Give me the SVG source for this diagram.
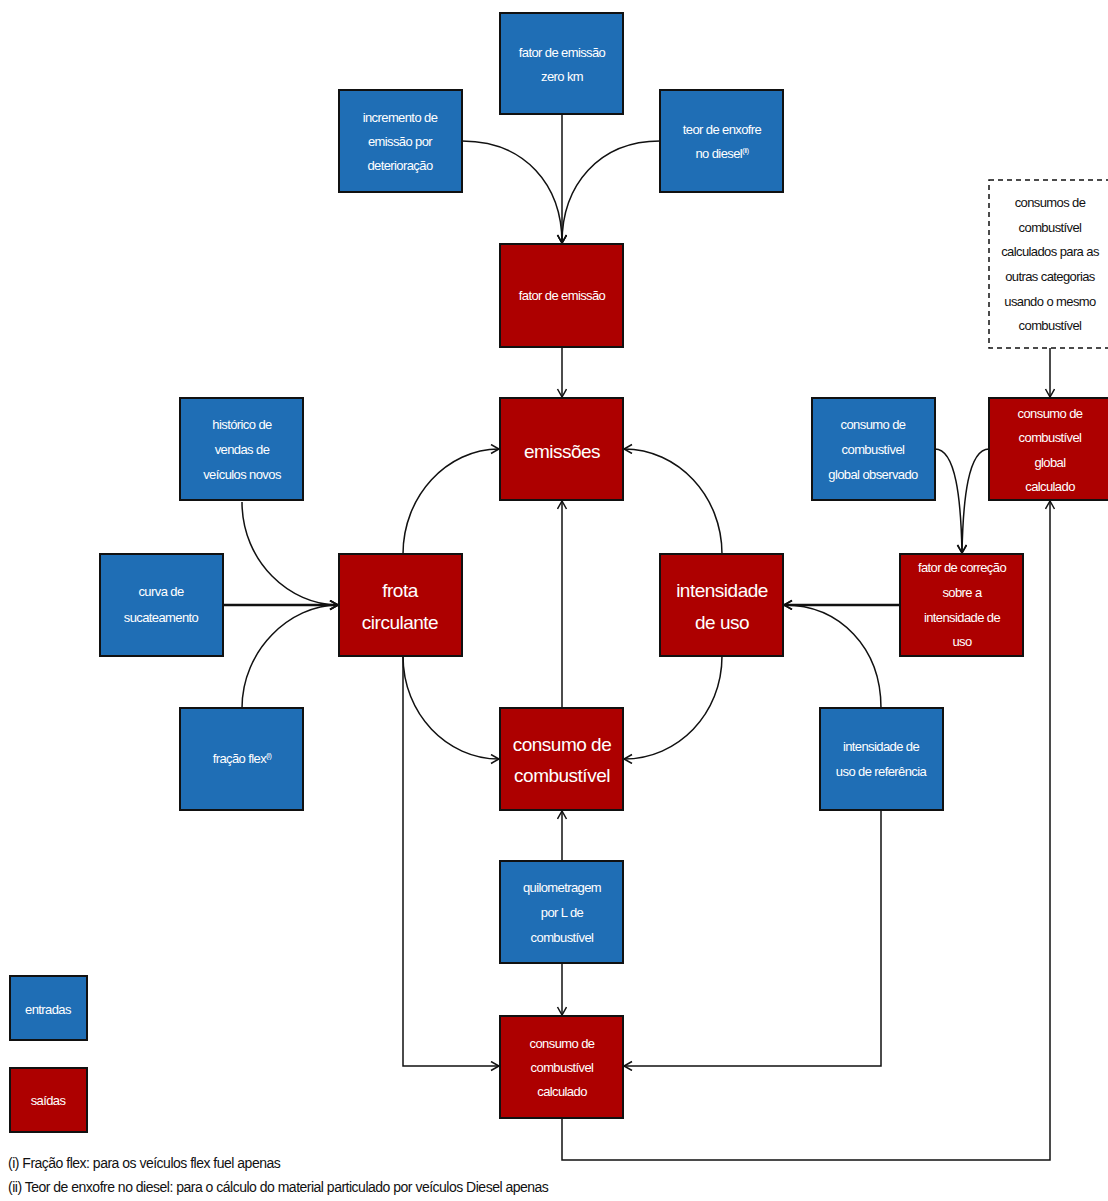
<svg xmlns="http://www.w3.org/2000/svg" width="1108" height="1201" viewBox="0 0 1108 1201">
<style>
.b{fill:#1f6eb5;stroke:#111;stroke-width:2}
.r{fill:#ad0000;stroke:#111;stroke-width:2}
.d{fill:#fff;stroke:#111;stroke-width:1.5;stroke-dasharray:5 4}
text{font-family:"Liberation Sans",Arial,sans-serif;text-anchor:middle;fill:#fff;font-size:13px;letter-spacing:-0.6px}
.L{font-size:19px;letter-spacing:-0.5px}
.k{fill:#111}
.f{fill:#111;text-anchor:start;font-size:14px;letter-spacing:-0.5px}
.c path{fill:none;stroke:#111;stroke-width:1.5}
.c .t{stroke-width:2.5}
</style>
<defs>
<marker id="a" markerWidth="12" markerHeight="12" refX="9" refY="5" orient="auto" markerUnits="userSpaceOnUse">
<path d="M1,0.5 L9,5 L1,9.5" fill="none" stroke="#111" stroke-width="1.5"/>
</marker>
</defs>
<rect width="1108" height="1201" fill="#fff"/>
<g class="c" id="connectors">
<path d="M562,114 L562,243" marker-end="url(#a)"/>
<path d="M462,141 C525,141 562,185 562,243" marker-end="url(#a)"/>
<path d="M660,141 C599,141 562,185 562,243" marker-end="url(#a)"/>
<path d="M562,347 L562,397" marker-end="url(#a)"/>
<path d="M403,554 C403,496 447,449 499,449" marker-end="url(#a)"/>
<path d="M722,554 C722,496 678,449 624,449" marker-end="url(#a)"/>
<path d="M403,656 C403,714 447,759 499,759" marker-end="url(#a)"/>
<path d="M722,656 C722,714 678,759 624,759" marker-end="url(#a)"/>
<path d="M562,708 L562,501" marker-end="url(#a)"/>
<path d="M562,861 L562,811" marker-end="url(#a)"/>
<path d="M562,963 L562,1015" marker-end="url(#a)"/>
<path d="M242,502 C242,562 290,605 338,605" marker-end="url(#a)"/>
<path class="t" d="M223,605 L338,605" marker-end="url(#a)"/>
<path d="M242,708 C242,650 290,605 338,605" marker-end="url(#a)"/>
<path d="M403,656 L403,1066 L499,1066" marker-end="url(#a)"/>
<path d="M881,810 L881,1066 L624,1066" marker-end="url(#a)"/>
<path d="M881,708 C881,648 840,605 784,605" marker-end="url(#a)"/>
<path class="t" d="M900,605 L784,605" marker-end="url(#a)"/>
<path d="M935,449 C956,449 961,500 962,553" marker-end="url(#a)"/>
<path d="M989,449 C968,449 963,500 962,553" marker-end="url(#a)"/>
<path d="M1050,348 L1050,397" marker-end="url(#a)"/>
<path d="M562,1118 L562,1160 L1050,1160 L1050,501" marker-end="url(#a)"/>
</g>
<g id="n-zerokm"><rect class="b" x="500" y="13" width="123" height="101"/><text x="562" y="57">fator de emissão</text><text x="562" y="81">zero km</text></g>
<g id="n-incremento"><rect class="b" x="339" y="90" width="123" height="102"/><text x="400" y="122">incremento de</text><text x="400" y="146">emissão por</text><text x="400" y="170">deterioração</text></g>
<g id="n-teor"><rect class="b" x="660" y="90" width="123" height="102"/><text x="722" y="134">teor de enxofre</text><text x="722" y="158">no diesel<tspan font-size="8" dy="-5">(ii)</tspan></text></g>
<g id="n-fator"><rect class="r" x="500" y="244" width="123" height="103"/><text x="562" y="300">fator de emissão</text></g>
<g id="n-outras"><rect class="d" x="989" y="180" width="125" height="168"/><text class="k" x="1050" y="207">consumos de</text><text class="k" x="1050" y="232">combustível</text><text class="k" x="1050" y="256">calculados para as</text><text class="k" x="1050" y="281">outras categorias</text><text class="k" x="1050" y="306">usando o mesmo</text><text class="k" x="1050" y="330">combustível</text></g>
<g id="n-emissoes"><rect class="r" x="500" y="398" width="123" height="102"/><text class="L" x="562" y="458">emissões</text></g>
<g id="n-historico"><rect class="b" x="180" y="398" width="123" height="102"/><text x="242" y="429">histórico de</text><text x="242" y="454">vendas de</text><text x="242" y="479">veículos novos</text></g>
<g id="n-observado"><rect class="b" x="812" y="398" width="123" height="102"/><text x="873" y="429">consumo de</text><text x="873" y="454">combustível</text><text x="873" y="479">global observado</text></g>
<g id="n-globalcalc"><rect class="r" x="989" y="398" width="120" height="102"/><text x="1050" y="418">consumo de</text><text x="1050" y="442">combustível</text><text x="1050" y="467">global</text><text x="1050" y="491">calculado</text></g>
<g id="n-curva"><rect class="b" x="100" y="554" width="123" height="102"/><text x="161" y="596">curva de</text><text x="161" y="622">sucateamento</text></g>
<g id="n-frota"><rect class="r" x="339" y="554" width="123" height="102"/><text class="L" x="400" y="597">frota</text><text class="L" x="400" y="629">circulante</text></g>
<g id="n-intensidade"><rect class="r" x="660" y="554" width="123" height="102"/><text class="L" x="722" y="597">intensidade</text><text class="L" x="722" y="629">de uso</text></g>
<g id="n-correcao"><rect class="r" x="900" y="554" width="123" height="102"/><text x="962" y="572">fator de correção</text><text x="962" y="597">sobre a</text><text x="962" y="622">intensidade de</text><text x="962" y="646">uso</text></g>
<g id="n-flex"><rect class="b" x="180" y="708" width="123" height="102"/><text x="242" y="763">fração flex<tspan font-size="8" dy="-5">(i)</tspan></text></g>
<g id="n-consumo"><rect class="r" x="500" y="708" width="123" height="102"/><text class="L" x="562" y="751">consumo de</text><text class="L" x="562" y="782">combustível</text></g>
<g id="n-referencia"><rect class="b" x="820" y="708" width="123" height="102"/><text x="881" y="751">intensidade de</text><text x="881" y="776">uso de referência</text></g>
<g id="n-quilometragem"><rect class="b" x="500" y="861" width="123" height="102"/><text x="562" y="892">quilometragem</text><text x="562" y="917">por L de</text><text x="562" y="942">combustível</text></g>
<g id="n-calculado"><rect class="r" x="500" y="1016" width="123" height="102"/><text x="562" y="1048">consumo de</text><text x="562" y="1072">combustível</text><text x="562" y="1096">calculado</text></g>
<g id="legend-entradas"><rect class="b" x="10" y="976" width="77" height="64"/><text x="48" y="1014">entradas</text></g>
<g id="legend-saidas"><rect class="r" x="10" y="1068" width="77" height="64"/><text x="48" y="1105">saídas</text></g>
<g id="footnotes"><text class="f" x="8" y="1168">(i)  Fração flex: para os veículos flex fuel apenas</text><text class="f" x="8" y="1192">(ii) Teor de enxofre no diesel: para o cálculo do material particulado por veículos Diesel apenas</text></g>
</svg>
